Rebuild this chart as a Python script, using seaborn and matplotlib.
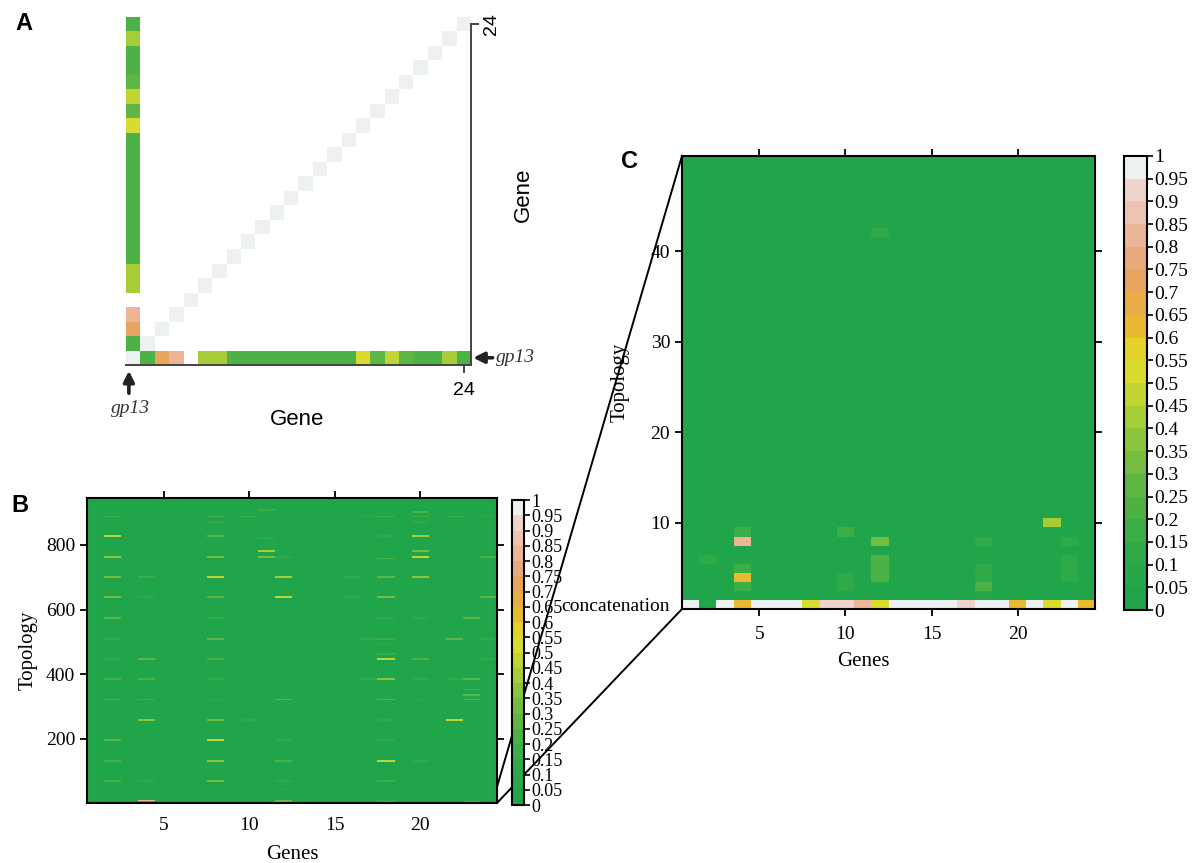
import numpy as np
import pandas as pd
import matplotlib
matplotlib.use("Agg")
import matplotlib.pyplot as plt
from matplotlib.colors import ListedColormap
from matplotlib.patches import ConnectionPatch
import seaborn as sns

W, H = 1196, 863

N_GENES = 24
N_TOPOLOGIES = 945
N_ZOOM = 50

# 20-step colour scale, green (0) -> yellow -> salmon -> light grey (1)
scale_colors = ['#21a54a', '#27a74a', '#30aa49', '#3cae47', '#4db245',
                '#5fb743', '#74bd40', '#8cc43c', '#a6cc38', '#c0d534',
                '#d9dc2f', '#e6d02c', '#e9b932', '#e9ad48', '#e9a460',
                '#eaa97a', '#ecb596', '#eec3b3', '#f1d3cd', '#eef1f2']
cbar_ticks = np.round(np.arange(0, 1.0001, 0.05), 2)

# ---- panel A: gp13 (gene 1) against each gene ----
gp13_values = [1.0, 0.22, 0.72, 0.83, np.nan, 0.42, 0.42, 0.22, 0.22, 0.22,
               0.22, 0.22, 0.22, 0.22, 0.22, 0.22, 0.52, 0.28, 0.47, 0.28,
               0.22, 0.22, 0.42, 0.22]
self_value = 1.0

# ---- panel C: first 50 topologies (row 1 = concatenation) ----
background = 0.02
concat_values = [1.0, 0.03, 1.0, 0.62, 1.0, 1.0, 1.0, 0.52, 0.92, 0.92,
                 0.82, 0.52, 1.0, 1.0, 1.0, 1.0, 0.92, 1.0, 1.0, 0.62,
                 1.0, 0.52, 1.0, 0.62]
zoom_gene = [2, 4, 4, 4, 4, 4, 10, 10, 10, 12, 12, 12, 12, 12,
             18, 18, 18, 18, 18, 22, 23, 23, 23, 23]
zoom_topo = [6, 9, 8, 5, 4, 3, 9, 4, 3, 8, 6, 5, 4, 42,
             8, 5, 4, 3, 2, 10, 8, 6, 5, 4]
zoom_value = [0.12, 0.17, 0.83, 0.17, 0.62, 0.17, 0.17, 0.12, 0.12, 0.32,
              0.22, 0.22, 0.22, 0.12, 0.12, 0.12, 0.12, 0.2, 0.07, 0.42,
              0.1, 0.1, 0.1, 0.1]

# ---- panel B: all 945 topologies, thin stripes above background ----
line_gene = ([2] * 13 + [4] * 7 + [8] * 15 + [10] * 2 + [11] * 4 + [12] * 7
             + [16] * 2 + [17] * 3 + [18] * 16 + [20] * 12 + [22] * 4
             + [23] * 5 + [24] * 5)
line_topo = [888, 828, 762, 701, 638, 573, 509, 447, 385, 321, 195, 130, 68,
             447, 385, 321, 258, 701, 638, 68,
             888, 872, 828, 762, 701, 638, 573, 509, 447, 385, 321, 258, 195, 130, 68,
             888, 258,
             908, 821, 781, 762,
             762, 701, 638, 321, 195, 130, 68,
             701, 638,
             888, 509, 385,
             888, 828, 758, 701, 638, 573, 509, 491, 463, 447, 385, 321, 258, 195, 130, 68,
             903, 888, 872, 828, 781, 762, 701, 573, 447, 385, 321, 130,
             888, 509, 385, 258,
             573, 385, 352, 336, 321,
             888, 762, 638, 509, 447]
line_value = [0.15, 0.45, 0.35, 0.3, 0.3, 0.25, 0.1, 0.1, 0.2, 0.2, 0.25, 0.2, 0.2,
              0.25, 0.2, 0.15, 0.35, 0.15, 0.1, 0.1,
              0.2, 0.1, 0.25, 0.3, 0.45, 0.25, 0.15, 0.25, 0.2, 0.1, 0.1, 0.3, 0.45, 0.35, 0.3,
              0.15, 0.12,
              0.15, 0.12, 0.4, 0.3,
              0.12, 0.4, 0.45, 0.25, 0.12, 0.2, 0.12,
              0.12, 0.1,
              0.12, 0.12, 0.12,
              0.15, 0.12, 0.2, 0.25, 0.3, 0.12, 0.15, 0.12, 0.15, 0.45, 0.35, 0.25, 0.12, 0.12, 0.45, 0.15,
              0.2, 0.15, 0.12, 0.4, 0.3, 0.45, 0.35, 0.12, 0.2, 0.12, 0.12, 0.12,
              0.15, 0.25, 0.12, 0.45,
              0.25, 0.25, 0.2, 0.25, 0.25,
              0.12, 0.2, 0.25, 0.12, 0.12]
line_rows = 5


def px_axes(fig, x0, y0, x1, y1):
    return fig.add_axes([x0 / W, 1 - y1 / H, (x1 - x0) / W, (y1 - y0) / H])


cmap = ListedColormap(scale_colors)
SERIF = 'Liberation Serif'
SANS = 'Liberation Sans'

# matrices
mat_a = np.full((N_GENES, N_GENES), np.nan)
np.fill_diagonal(mat_a, self_value)
mat_a[0, :] = gp13_values
mat_a[:, 0] = gp13_values

mat_c = np.full((N_ZOOM, N_GENES), background)
mat_c[0, :] = concat_values
for g, t, v in zip(zoom_gene, zoom_topo, zoom_value):
    mat_c[t - 1, g - 1] = v

mat_b = np.full((N_TOPOLOGIES, N_GENES), background)
mat_b[:N_ZOOM] = mat_c
for g, t, v in zip(line_gene, line_topo, line_value):
    mat_b[t - line_rows // 2 - 1:t + line_rows // 2, g - 1] = v

fig = plt.figure(figsize=(W / 100, H / 100), dpi=100)

# ---------------- A ----------------
ax_a = px_axes(fig, 126, 17, 471, 365)
sns.heatmap(pd.DataFrame(mat_a), ax=ax_a, cmap=cmap, vmin=0, vmax=1, cbar=False,
            xticklabels=False, yticklabels=False)
ax_a.invert_yaxis()
for side in ['bottom', 'right']:
    ax_a.spines[side].set_visible(True)
    ax_a.spines[side].set_color('#444444')
    ax_a.spines[side].set_linewidth(1.4)
ax_a.spines['right'].set_bounds(0, 23.5)
ax_a.yaxis.tick_right()
ax_a.set_xticks([23.5])
ax_a.set_xticklabels(['24'], fontsize=14, family=SANS)
ax_a.set_yticks([23.5])
ax_a.set_yticklabels(['24'], fontsize=14, family=SANS, rotation=90, va='center')
ax_a.tick_params(direction='out', length=6, width=1.4, color='#444444', pad=3)
ax_a.tick_params(axis='x', pad=6)
ax_a.text(0.496, -0.158, 'Gene', transform=ax_a.transAxes, ha='center', va='center',
          fontsize=16, family=SANS)
ax_a.text(1.151, 0.489, 'Gene', transform=ax_a.transAxes, ha='center', va='center',
          fontsize=16, family=SANS, rotation=90)
arrow = dict(arrowstyle='-|>', color='#222222', lw=2.6, mutation_scale=16,
             shrinkA=0, shrinkB=0)
ax_a.annotate('', xy=(0.2, -0.4), xytext=(0.2, -1.95), arrowprops=arrow,
              annotation_clip=False)
ax_a.text(0.28, -3.0, 'gp13', ha='center', va='center', fontsize=14,
          family=SERIF, style='italic', color='#333333')
ax_a.annotate('', xy=(24.15, 0.5), xytext=(25.5, 0.5), arrowprops=arrow,
              annotation_clip=False)
ax_a.text(25.75, 0.55, 'gp13', ha='left', va='center', fontsize=14,
          family=SERIF, style='italic', color='#333333')


def style_panel(ax):
    for s in ax.spines.values():
        s.set_visible(True)
        s.set_linewidth(1.5)
        s.set_color('black')
    ax.tick_params(direction='out', length=5, width=1.3, color='black',
                   top=True, right=True, labelsize=14)
    for lbl in ax.get_xticklabels() + ax.get_yticklabels():
        lbl.set_family(SERIF)


def style_cbar(cb, size):
    cb.outline.set_visible(True)
    cb.outline.set_linewidth(1.5)
    cb.outline.set_edgecolor('black')
    cb.ax.set_yticks(cbar_ticks)
    cb.ax.set_yticklabels([f'{t:g}' for t in cbar_ticks], fontsize=size, family=SERIF)
    cb.ax.tick_params(direction='out', length=4, width=1.2, pad=1)


# ---------------- B ----------------
ax_b = px_axes(fig, 87, 498, 497, 803)
cax_b = px_axes(fig, 512, 500, 524, 805)
sns.heatmap(pd.DataFrame(mat_b), ax=ax_b, cmap=cmap, vmin=0, vmax=1,
            cbar=True, cbar_ax=cax_b, xticklabels=False, yticklabels=False)
ax_b.invert_yaxis()
ax_b.set_xticks([4.5, 9.5, 14.5, 19.5])
ax_b.set_xticklabels(['5', '10', '15', '20'])
ax_b.set_yticks([199.5, 399.5, 599.5, 799.5])
ax_b.set_yticklabels(['200', '400', '600', '800'])
style_panel(ax_b)
ax_b.tick_params(axis='x', bottom=False, pad=5)
ax_b.set_xlabel('Genes', fontsize=15, family=SERIF)
ax_b.xaxis.set_label_coords(0.5, -0.137)
ax_b.set_ylabel('Topology', fontsize=15, family=SERIF, labelpad=6)
style_cbar(ax_b.collections[0].colorbar, 13)

# ---------------- C ----------------
ax_c = px_axes(fig, 682, 156, 1095, 609)
cax_c = px_axes(fig, 1124, 156, 1147, 610)
sns.heatmap(pd.DataFrame(mat_c), ax=ax_c, cmap=cmap, vmin=0, vmax=1,
            cbar=True, cbar_ax=cax_c, xticklabels=False, yticklabels=False)
ax_c.invert_yaxis()
ax_c.set_xticks([4.5, 9.5, 14.5, 19.5])
ax_c.set_xticklabels(['5', '10', '15', '20'])
ax_c.set_yticks([0.5, 9.5, 19.5, 29.5, 39.5])
ax_c.set_yticklabels(['concatenation', '10', '20', '30', '40'])
style_panel(ax_c)
ax_c.tick_params(axis='x', pad=7)
ax_c.yaxis.get_major_ticks()[0].tick1line.set_visible(False)
ax_c.yaxis.get_major_ticks()[0].tick2line.set_visible(False)
ax_c.set_xlabel('Genes', fontsize=15, family=SERIF)
ax_c.xaxis.set_label_coords(0.44, -0.095)
ax_c.set_ylabel('Topology', fontsize=15, family=SERIF)
ax_c.yaxis.set_label_coords(-0.128, 0.5)
style_cbar(ax_c.collections[0].colorbar, 14)

# zoom connectors from B (first 50 topologies) to C
for yb in [0, N_ZOOM]:
    con = ConnectionPatch(xyA=(N_GENES, yb), coordsA=ax_b.transData,
                          xyB=(0, yb), coordsB=ax_c.transData,
                          color='black', lw=1.4, zorder=-1)
    fig.add_artist(con)

# panel letters
fig.text(24 / W, 1 - 24 / H, 'A', fontsize=17, fontweight='bold', family=SANS,
         ha='center', va='center')
fig.text(20 / W, 1 - 505 / H, 'B', fontsize=17, fontweight='bold', family=SANS,
         ha='center', va='center')
fig.text(630 / W, 1 - 162 / H, 'C', fontsize=17, fontweight='bold', family=SANS,
         ha='center', va='center')

fig.savefig('out.png', dpi=100)
